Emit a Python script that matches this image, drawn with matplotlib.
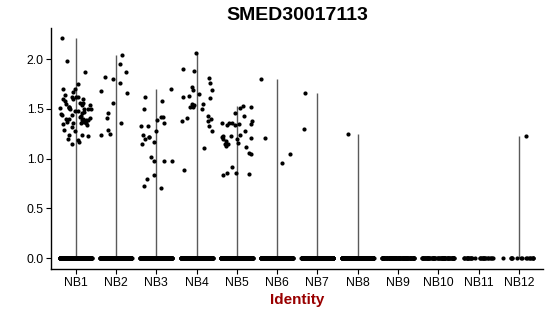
import numpy as np
import matplotlib
matplotlib.use("Agg")
import matplotlib.pyplot as plt

plt.rcParams['font.family'] = ['Liberation Sans', 'DejaVu Sans']

# groups on the x axis
groups = ["NB1", "NB2", "NB3", "NB4", "NB5", "NB6", "NB7", "NB8",
          "NB9", "NB10", "NB11", "NB12"]

# number of cells with zero expression per group
n_zero = [260, 240, 250, 260, 250, 220, 220, 220, 120, 70, 30, 16]

# non zero expression values per group
expr = {
    "NB1": [2.21, 1.98, 1.875, 1.75, 1.70, 1.67, 1.70, 1.64, 1.60, 1.60, 1.62,
            1.62, 1.60, 1.62, 1.56, 1.535, 1.52, 1.56, 1.535, 1.52, 1.51, 1.50,
            1.51, 1.50, 1.495, 1.48, 1.48, 1.495, 1.45, 1.46, 1.44, 1.435,
            1.43, 1.41, 1.40, 1.42, 1.40, 1.40, 1.39, 1.37, 1.355, 1.355,
            1.39, 1.39, 1.36, 1.37, 1.385, 1.345, 1.335, 1.315, 1.275, 1.285,
            1.24, 1.24, 1.23, 1.20, 1.19, 1.15, 1.165, 1.55, 1.58, 1.47],
    "NB2": [2.04, 1.95, 1.87, 1.82, 1.80, 1.76, 1.68, 1.66, 1.555, 1.46,
            1.41, 1.36, 1.24, 1.29, 1.25],
    "NB3": [1.58, 1.495, 1.36, 1.62, 1.70, 1.42, 1.385, 1.42, 1.33, 1.275,
            1.24, 1.22, 1.22, 1.20, 1.165, 1.15, 1.33, 1.02, 0.98, 0.98, 0.98,
            0.80, 0.73, 0.84, 0.71],
    "NB4": [2.06, 1.88, 1.90, 1.81, 1.69, 1.65, 1.62, 1.76, 1.72, 1.69, 1.63,
            1.61, 1.545, 1.52, 1.545, 1.535, 1.52, 1.50, 1.40, 1.38, 1.38,
            1.43, 1.41, 1.275, 1.33, 1.11, 0.89],
    "NB5": [1.51, 1.53, 1.52, 1.455, 1.43, 1.38, 1.355, 1.355, 1.36, 1.345,
            1.335, 1.345, 1.335, 1.225, 1.225, 1.13, 1.24, 1.22, 1.21, 1.275,
            1.20, 1.12, 1.15, 1.20, 1.15, 1.175, 1.16, 1.06, 0.84, 0.86,
            0.855, 1.05, 0.92, 0.845],
    "NB6": [1.21, 1.80, 1.05, 0.955],
    "NB7": [1.66, 1.30],
    "NB8": [1.245],
    "NB9": [],
    "NB10": [],
    "NB11": [],
    "NB12": [1.225],
}

fig = plt.figure(figsize=(5.5, 3.16), dpi=100)
ax = fig.add_axes([0.0936, 0.1487, 0.8936, 0.7617])

rng = np.random.default_rng(3)
for i, g in enumerate(groups):
    pos = i + 1
    vals = np.array(expr[g] + [0.0] * n_zero[i])
    # violin collapses to a thin line from 0 to max
    if len(expr[g]) > 0:
        ax.vlines(pos, 0, vals.max(), color="#5a5a5a", lw=1.0, zorder=1)
    jit = rng.uniform(-0.4, 0.4, len(vals))
    ax.scatter(pos + jit, vals, s=9, color="black", lw=0, zorder=2)

ax.set_xlim(0.4, 12.6)
ax.set_ylim(-0.108, 2.31)
ax.set_xticks(range(1, len(groups) + 1))
ax.set_xticklabels(groups)
ax.set_yticks([0, 0.5, 1.0, 1.5, 2.0])
ax.set_yticklabels(["0.0", "0.5", "1.0", "1.5", "2.0"])
ax.tick_params(labelsize=8.8, length=3.5, width=0.8, color="black",
               labelcolor="black", pad=2)

for side in ["top", "right"]:
    ax.spines[side].set_visible(False)
for side in ["left", "bottom"]:
    ax.spines[side].set_linewidth(1.0)

ax.set_xlabel("Identity", fontsize=11, fontweight="bold", color="#990000",
              labelpad=3)
ax.set_title("SMED30017113", fontsize=14, fontweight="bold", pad=6)

fig.savefig("out.png", dpi=100)
